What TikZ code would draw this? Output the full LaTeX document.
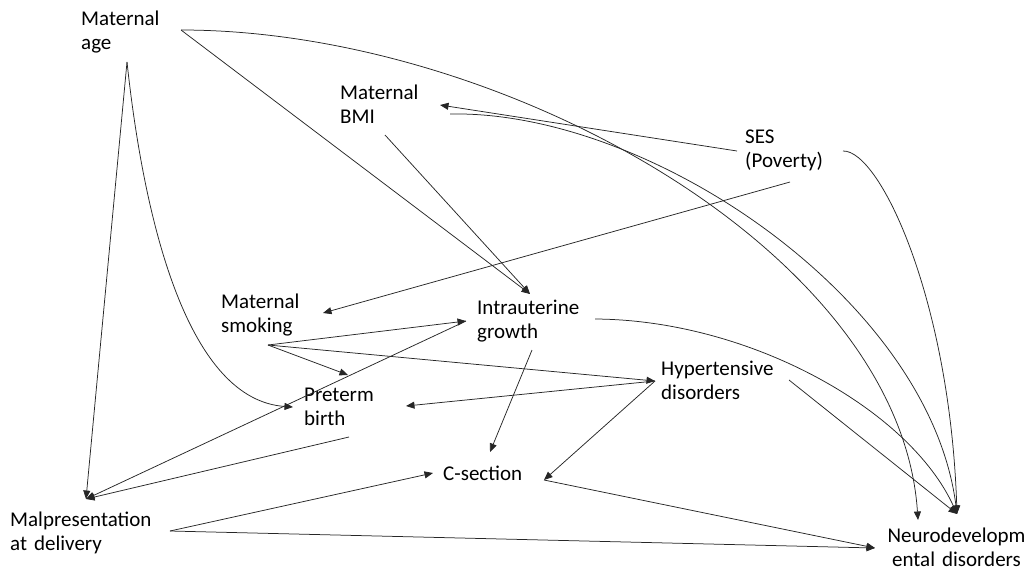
\documentclass[tikz,border=0pt]{standalone}
\usepackage{fontspec}
\setmainfont{Carlito}
\usetikzlibrary{arrows.meta,calc}
\begin{document}
\begin{tikzpicture}[x=1pt,y=-1pt,
  lbl/.style={inner sep=0pt, text width=#1, align=left, anchor=base west,
              font=\fontsize{21}{24}\selectfont},
  lbl/.default=160pt,
  link/.style={line width=0.75pt, draw=black!85,
               -{Triangle[length=8.5pt,width=7pt]}},
]
\useasboundingbox (0,0) rectangle (1032,568);

% variables
\node[lbl] (age) at (81,25)  {Maternal\\age};
\node[lbl] (bmi) at (340,99) {Maternal\\BMI};
\node[lbl] (ses) at (745,143) {SES\\(Poverty)};
\node[lbl] (smk) at (221,308) {Maternal\\smoking};
\node[lbl] (iu)  at (477,314) {Intrauterine\\growth};
\node[lbl] (pre) at (304,401) {Preterm\\birth};
\node[lbl] (hyp) at (661,375) {Hypertensive\\disorders};
\node[lbl] (cs)  at (443,480) {C-section};
\node[lbl] (mal) at (10,526)  {Malpresentation\\at delivery};
\node[lbl=150pt, align=center, anchor=base] (neu) at (956.5,542)
  {Neurodevelopm\\ental disorders};

% connection points around the labels
\coordinate (age-s) at ($(age.base west)+(46,37)$);
\coordinate (age-r) at ($(age.base west)+(100,5)$);
\coordinate (bmi-s) at ($(bmi.base west)+(45,36)$);
\coordinate (bmi-r) at ($(bmi.base west)+(100,6)$);
\coordinate (bmi-c) at ($(bmi.base west)+(110,15)$);
\coordinate (ses-l) at ($(ses.base west)+(-8,8)$);
\coordinate (ses-s) at ($(ses.base west)+(45,39)$);
\coordinate (ses-r) at ($(ses.base west)+(98,8)$);
\coordinate (smk-r) at ($(smk.base west)+(102,5)$);
\coordinate (smk-s) at ($(smk.base west)+(47,37)$);
\coordinate (iu-t)  at ($(iu.base west)+(53,-20)$);
\coordinate (iu-l)  at ($(iu.base west)+(-11,7)$);
\coordinate (iu-r)  at ($(iu.base west)+(118,5)$);
\coordinate (iu-b)  at ($(iu.base west)+(55,36)$);
\coordinate (pre-l) at ($(pre.base west)+(-11,6)$);
\coordinate (pre-t) at ($(pre.base west)+(44,-26)$);
\coordinate (pre-r) at ($(pre.base west)+(102,5)$);
\coordinate (pre-b) at ($(pre.base west)+(45,36)$);
\coordinate (hyp-l) at ($(hyp.base west)+(-6,6)$);
\coordinate (hyp-r) at ($(hyp.base west)+(128,5)$);
\coordinate (cs-l)  at ($(cs.base west)+(-10,-7)$);
\coordinate (cs-t)  at ($(cs.base west)+(47,-28)$);
\coordinate (cs-r)  at ($(cs.base west)+(101,0)$);
\coordinate (mal-t) at ($(mal.base west)+(76,-27)$);
\coordinate (mal-r) at ($(mal.base west)+(160,5)$);
\coordinate (neu-l) at ($(neu.base)+(-81.5,6)$);
\coordinate (neu-a) at ($(neu.base)+(-38.5,-22)$);
\coordinate (neu-t) at ($(neu.base)+(0.5,-28)$);

% straight arrows
\draw[link] (age-s) -- (mal-t);
\draw[link] (age-r) -- (iu-t);
\draw[link] (bmi-s) -- (iu-t);
\draw[link] (ses-l) -- (bmi-r);
\draw[link] (ses-s) -- (smk-r);
\draw[link] (smk-s) -- (iu-l);
\draw[link] (smk-s) -- (pre-t);
\draw[link] (smk-s) -- (hyp-l);
\draw[link] (iu-b)  -- (cs-t);
\draw[link] (iu-l)  -- (mal-t);
\draw[link] (hyp-l) -- (pre-r);
\draw[link] (hyp-l) -- (cs-r);
\draw[link] (hyp-r) -- (neu-t);
\draw[link] (pre-b) -- (mal-t);
\draw[link] (mal-r) -- (cs-l);
\draw[link] (mal-r) -- (neu-l);
\draw[link] (cs-r)  -- (neu-l);

% curved arrows
\draw[link] (age-s) .. controls (145,230) and (190,400) .. (pre-l);
\draw[link] (age-r) .. controls (500,30) and (900,250) .. (neu-a);
\draw[link] (bmi-c) .. controls (650,110) and (930,300) .. (neu-t);
\draw[link] (ses-r) .. controls (880,150) and (950,300) .. (neu-t);
\draw[link] (iu-r)  .. controls (750,320) and (910,410) .. (neu-t);
\end{tikzpicture}
\end{document}
